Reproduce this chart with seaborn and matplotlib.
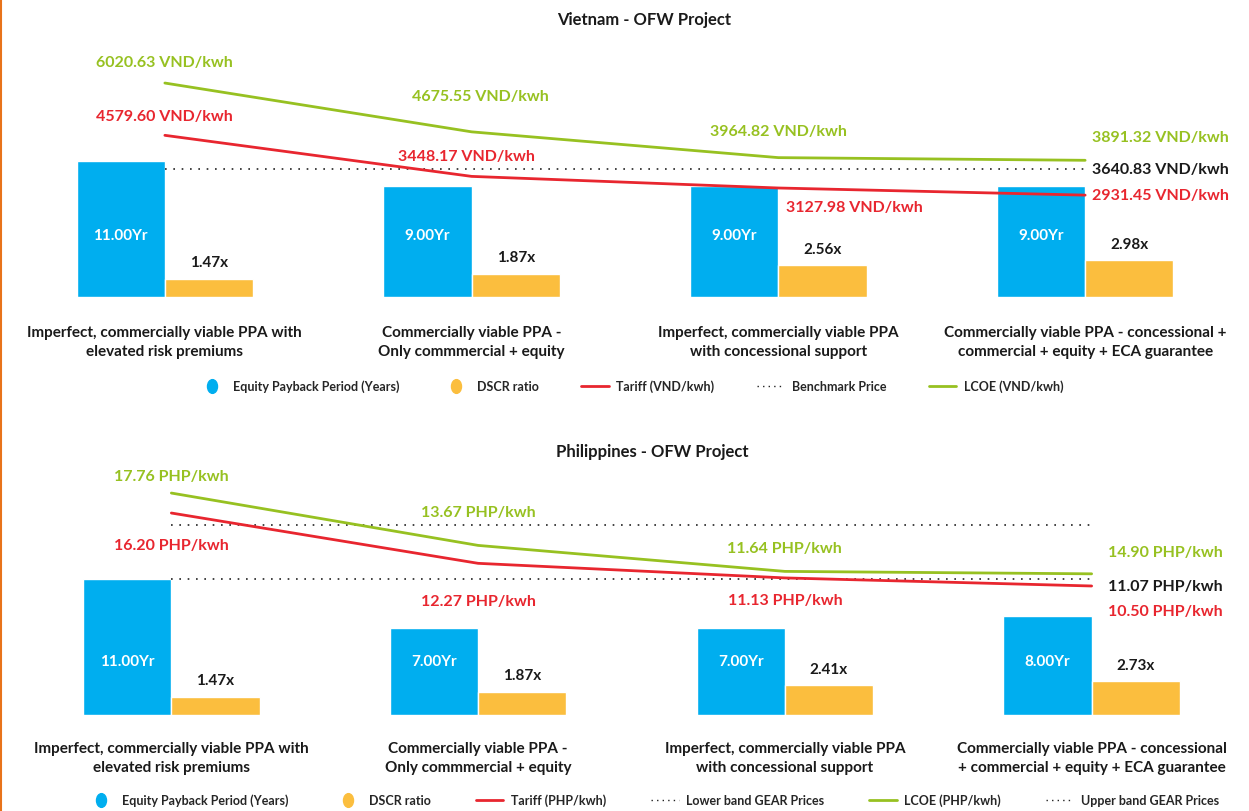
import matplotlib
matplotlib.use("Agg")
import matplotlib.pyplot as plt
import seaborn as sns
import pandas as pd
from matplotlib.lines import Line2D
from matplotlib.markers import MarkerStyle
from matplotlib.transforms import Affine2D

# ---- data ----
scenarios_vn = ["Imperfect, commercially viable PPA with\nelevated risk premiums",
                "Commercially viable PPA -\nOnly commmercial + equity",
                "Imperfect, commercially viable PPA\nwith concessional support",
                "Commercially viable PPA - concessional +\ncommercial + equity + ECA guarantee"]
scenarios_ph = ["Imperfect, commercially viable PPA with\nelevated risk premiums",
                "Commercially viable PPA -\nOnly commmercial + equity",
                "Imperfect, commercially viable PPA\nwith concessional support",
                "Commercially viable PPA - concessional\n+ commercial + equity + ECA guarantee"]

payback_vn = [11.00, 9.00, 9.00, 9.00]
dscr_vn = [1.47, 1.87, 2.56, 2.98]
tariff_vn = [4579.60, 3448.17, 3127.98, 2931.45]
lcoe_vn = [6020.63, 4675.55, 3964.82, 3891.32]
benchmark_vn = 3640.83

payback_ph = [11.00, 7.00, 7.00, 8.00]
dscr_ph = [1.47, 1.87, 2.41, 2.73]
tariff_ph = [16.20, 12.27, 11.13, 10.50]
lcoe_ph = [17.76, 13.67, 11.64, 11.45]          # last point as drawn
lcoe_ph_labels = ["17.76", "13.67", "11.64", "14.90"]  # as printed
lower_gear_ph = 11.07
upper_gear_ph = 15.25

BLUE = "#00AEEF"
GOLD = "#FBBE3E"
RED = "#E8262F"
GREEN = "#97C121"
DARK = "#1a1a1a"

sns.set_theme(style="white")
plt.rcParams["font.family"] = ["Lato", "DejaVu Sans"]
plt.rcParams["font.weight"] = "bold"

fig = plt.figure(figsize=(12.49, 8.12), dpi=100)
ax_vn = fig.add_axes([0.0092, 0.633, 0.9824, 0.3176])
ax_ph = fig.add_axes([0.0144, 0.1182, 0.9824, 0.3153])


def draw_bars(ax, payback, dscr, ymax, yr_y):
    df = pd.DataFrame({"idx": list(range(4)) * 2,
                       "series": ["payback"] * 4 + ["dscr"] * 4,
                       "value": payback + dscr})
    sns.barplot(data=df, x="idx", y="value", hue="series", palette=[BLUE, GOLD],
                width=0.575, saturation=1, ax=ax, legend=False, errorbar=None)
    ax.set_xlim(-0.5, 3.5)
    ax.set_ylim(0, ymax)
    ax.set_axis_off()
    for bar, v in zip(ax.containers[0], payback):
        ax.text(bar.get_x() + bar.get_width() / 2, yr_y, f"{v:.2f}Yr",
                color="white", ha="center", va="center", fontsize=11, fontweight="bold")
    for bar, v in zip(ax.containers[1], dscr):
        ax.annotate(f"{v:.2f}x", (bar.get_x() + bar.get_width() / 2, v),
                    xytext=(0, 12), textcoords="offset points", ha="center",
                    va="center", fontsize=11, fontweight="bold", color=DARK)


def draw_labels(ax, scenarios, drop):
    for i, s in enumerate(scenarios):
        ax.annotate(s, (i, 0), xycoords=("data", "axes fraction"), xytext=(0, drop),
                    textcoords="offset points", ha="center", va="center",
                    fontsize=11, fontweight="bold", color=DARK, linespacing=1.4)


def tag(ax, text, x, y, dx, dy, color):
    ax.annotate(text, (x, y), xytext=(dx, dy), textcoords="offset points",
                ha="center", va="center", fontsize=11.5, fontweight="bold", color=color)


dot_style = (0, (1, 4))

# ---- Vietnam ----
draw_bars(ax_vn, payback_vn, dscr_vn, 20.87, 5.0)
draw_labels(ax_vn, scenarios_vn, -32)
ax2 = ax_vn.twinx()
xs = list(range(4))
sns.lineplot(x=xs, y=[benchmark_vn] * 4, ax=ax2, color="#222222", lw=1.2, linestyle=dot_style)
sns.lineplot(x=xs, y=tariff_vn, ax=ax2, color=RED, lw=2)
sns.lineplot(x=xs, y=lcoe_vn, ax=ax2, color=GREEN, lw=2)
ax2.set_xlim(-0.5, 3.5)
ax2.set_ylim(124, 7231)
ax2.set_axis_off()

lcoe_off = [(0, 15), (6, 26), (0, 19), (54, 17)]
tariff_off = [(0, 14), (-4, 15), (55, -14), (54, 0)]
for i in range(4):
    tag(ax2, f"{lcoe_vn[i]:.2f} VND/kwh", i, lcoe_vn[i], *lcoe_off[i], GREEN)
    tag(ax2, f"{tariff_vn[i]:.2f} VND/kwh", i, tariff_vn[i], *tariff_off[i], RED)
tag(ax2, f"{benchmark_vn:.2f} VND/kwh", 3, benchmark_vn, 54, 0, DARK)

# ---- Philippines ----
draw_bars(ax_ph, payback_ph, dscr_ph, 20.7, 4.4)
draw_labels(ax_ph, scenarios_ph, -30.5)
ax3 = ax_ph.twinx()
sns.lineplot(x=xs, y=[upper_gear_ph] * 4, ax=ax3, color="#222222", lw=1.2, linestyle=dot_style)
sns.lineplot(x=xs, y=[lower_gear_ph] * 4, ax=ax3, color="#222222", lw=1.2, linestyle=dot_style)
sns.lineplot(x=xs, y=tariff_ph, ax=ax3, color=RED, lw=2)
sns.lineplot(x=xs, y=lcoe_ph, ax=ax3, color=GREEN, lw=2)
ax3.set_xlim(-0.5, 3.5)
ax3.set_ylim(0.42, 20.42)
ax3.set_axis_off()

lcoe_off = [(0, 12), (0, 24), (0, 17), (53, 16)]
tariff_off = [(0, -23), (0, -27), (0, -16), (53, -18)]
for i in range(4):
    tag(ax3, f"{lcoe_ph_labels[i]} PHP/kwh", i, lcoe_ph[i], *lcoe_off[i], GREEN)
    tag(ax3, f"{tariff_ph[i]:.2f} PHP/kwh", i, tariff_ph[i], *tariff_off[i], RED)
tag(ax3, f"{lower_gear_ph:.2f} PHP/kwh", 3, lower_gear_ph, 53, -5, DARK)

# ---- titles ----
fig.text(0.516, 1 - 20 / 812, "Vietnam - OFW Project", ha="center", va="center",
         fontsize=12, fontweight="bold", color=DARK)
fig.text(0.522, 1 - 452 / 812, "Philippines - OFW Project", ha="center", va="center",
         fontsize=12, fontweight="bold", color=DARK)

# ---- legends ----
leg_font = {"family": ["Lato", "DejaVu Sans"], "size": 9, "weight": "bold"}
oval = MarkerStyle("o", transform=Affine2D().scale(0.8, 1.1))
blue_h = Line2D([], [], marker=oval, ls="none", color=BLUE, markersize=9)
gold_h = Line2D([], [], marker=oval, ls="none", color=GOLD, markersize=9)
red_h = Line2D([], [], color=RED, lw=2)
green_h = Line2D([], [], color=GREEN, lw=2)
dot_h = Line2D([], [], color="#222222", lw=1, linestyle=(0, (1, 3)))

fig.legend([blue_h, gold_h, red_h, dot_h, green_h],
           ["Equity Payback Period (Years)", "DSCR ratio", "Tariff (VND/kwh)",
            "Benchmark Price", "LCOE (VND/kwh)"],
           loc="center", bbox_to_anchor=(0.505, 1 - 387 / 812), ncol=5, frameon=False,
           prop=leg_font, columnspacing=3.4, handlelength=2.2, handletextpad=0.6)
fig.legend([blue_h, gold_h, red_h, dot_h, green_h, dot_h],
           ["Equity Payback Period (Years)", "DSCR ratio", "Tariff (PHP/kwh)",
            "Lower band GEAR Prices", "LCOE (PHP/kwh)", "Upper band GEAR Prices"],
           loc="center", bbox_to_anchor=(0.523, 1 - 801 / 812), ncol=6, frameon=False,
           prop=leg_font, columnspacing=3.6, handlelength=2.2, handletextpad=0.6)

# thin orange rule on the left edge
fig.add_artist(Line2D([0.0008, 0.0008], [0, 1], color="#E8731A", lw=1.5,
                      transform=fig.transFigure))

fig.savefig("out.png", dpi=100, facecolor="white")
